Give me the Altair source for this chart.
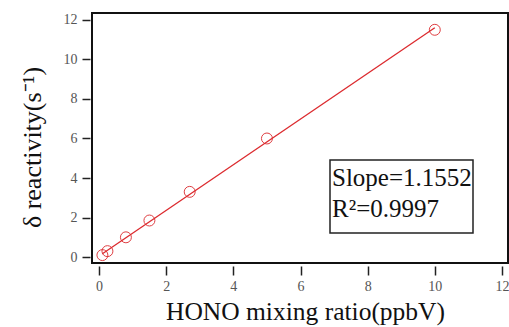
import altair as alt
import pandas as pd

# Measured HONO mixing ratio (ppbV) vs. change in OH reactivity (s^-1)
hono_ppbv = [0.1, 0.25, 0.8, 1.5, 2.7, 5.0, 10.0]
delta_reactivity = [0.1, 0.3, 1.0, 1.85, 3.3, 6.0, 11.5]

# Linear fit reported on the chart
slope = 1.1552
intercept = 0.05
r_squared = 0.9997

x_ticks = [0, 2, 4, 6, 8, 10, 12]
y_ticks = [0, 2, 4, 6, 8, 10, 12]

points = pd.DataFrame({"x": hono_ppbv, "y": delta_reactivity})
x_fit = [min(hono_ppbv), max(hono_ppbv)]
fit = pd.DataFrame({"x": x_fit, "y": [slope * v + intercept for v in x_fit]})

SERIF = "Liberation Serif"
RED = "#dc2a2e"

x_scale = alt.Scale(domain=[-0.21, 12.18], nice=False, zero=False)
y_scale = alt.Scale(domain=[-0.30, 12.35], nice=False, zero=False)

axis_common = dict(
    grid=False, domain=False, tickColor="#222", tickWidth=1.5,
    labelFont=SERIF, labelFontSize=14, labelColor="#555",
    titleFont=SERIF, titleFontWeight="normal", titleColor="#111",
)

x_axis = alt.Axis(
    values=x_ticks, offset=3, tickSize=9, labelPadding=4,
    title="HONO mixing ratio(ppbV)", titleFontSize=25.5,
    titleX=213, titleY=53, titleBaseline="alphabetic", titleAlign="center",
    **axis_common,
)
y_axis = alt.Axis(
    values=y_ticks, offset=2, tickSize=8, labelPadding=5,
    title="δ reactivity(s⁻¹)", titleFontSize=26,
    titleX=-50, titleY=134, titleAngle=270, titleBaseline="alphabetic",
    titleAlign="center",
    **axis_common,
)

line = alt.Chart(fit).mark_line(color=RED, strokeWidth=1.3).encode(
    x=alt.X("x:Q", scale=x_scale, axis=x_axis),
    y=alt.Y("y:Q", scale=y_scale, axis=y_axis),
)

dots = alt.Chart(points).mark_point(
    shape="circle", size=120, filled=False, color=RED, strokeWidth=1, opacity=0.9
).encode(x=alt.X("x:Q", scale=x_scale), y=alt.Y("y:Q", scale=y_scale))

# Annotation box with fit statistics
box = alt.Chart(pd.DataFrame({"k": [0]})).mark_rect(
    fill="white", stroke="#222", strokeWidth=1.5
).encode(x=alt.value(238), x2=alt.value(381), y=alt.value(147), y2=alt.value(220))

text_style = dict(font=SERIF, fontSize=25, align="left", baseline="alphabetic", color="#111")

slope_text = alt.Chart(pd.DataFrame({"t": [f"Slope={slope:.4f}"]})).mark_text(
    **text_style
).encode(x=alt.value(240), y=alt.value(173), text="t:N")

r2_text = alt.Chart(pd.DataFrame({"t": [f"R²={r_squared:.4f}"]})).mark_text(
    **text_style
).encode(x=alt.value(240), y=alt.value(204), text="t:N")

chart = alt.layer(line, dots, box, slope_text, r2_text).properties(
    width=416, height=250,
    autosize=alt.AutoSizeParams(type="none"),
    padding={"left": 92, "top": 13, "right": 1, "bottom": 64},
    background="white",
).configure_view(stroke="#111", strokeWidth=2)

chart.save("out.html", embed_options={"renderer": "svg", "actions": False})
